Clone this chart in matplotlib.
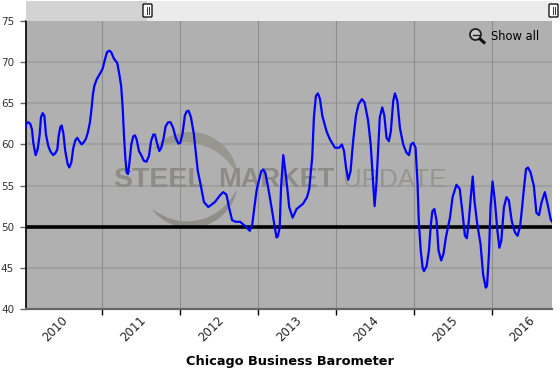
import numpy as np
import matplotlib
matplotlib.use('Agg')
import matplotlib.pyplot as plt
from matplotlib.patches import Circle, Rectangle, FancyBboxPatch

# months since Jan 2010
months = [0.18, 0.36, 0.6, 0.92, 1.18, 1.38, 1.74, 2.05, 2.36, 2.56, 2.82, 3.08, 3.33, 3.69, 4.05, 4.46, 4.82, 5.08, 5.28, 5.54, 5.74, 6.0, 6.3, 6.67, 6.92, 7.23, 7.54, 7.85, 8.15, 8.46, 8.82, 9.18, 9.49, 9.79, 10.1, 10.36, 10.56, 10.77, 11.13, 11.64, 12.05, 12.36, 12.72, 13.08, 13.38, 13.8, 14.3, 14.6, 14.9, 15.13, 15.33, 15.54, 15.74, 15.95, 16.15, 16.46, 16.77, 17.03, 17.28, 17.64, 18.05, 18.4, 18.8, 19.18, 19.5, 19.85, 20.1, 20.4, 20.77, 21.08, 21.44, 21.74, 22.15, 22.5, 22.9, 23.3, 23.7, 24.0, 24.36, 24.7, 24.97, 25.28, 25.64, 26.1, 26.36, 26.7, 27.03, 27.3, 27.64, 28.3, 28.67, 29.33, 30.1, 30.6, 31.1, 31.5, 31.97, 32.5, 33.2, 33.95, 34.7, 35.08, 35.4, 35.74, 36.0, 36.46, 36.77, 37.1, 37.44, 37.8, 38.3, 38.8, 39.0, 39.3, 39.5, 39.85, 40.3, 40.77, 41.28, 41.9, 42.9, 43.5, 43.85, 43.95, 44.3, 44.56, 44.87, 45.18, 45.5, 45.85, 46.5, 47.03, 47.8, 48.46, 48.87, 49.2, 49.5, 49.85, 50.2, 50.6, 51.03, 51.44, 51.95, 52.36, 52.9, 53.3, 53.6, 53.9, 54.2, 54.46, 54.7, 55.08, 55.4, 55.74, 56.1, 56.4, 56.77, 57.03, 57.4, 57.8, 58.3, 58.8, 59.2, 59.5, 59.85, 60.2, 60.5, 60.7, 61.0, 61.3, 61.5, 61.9, 62.26, 62.56, 62.8, 63.1, 63.44, 63.74, 64.15, 64.5, 64.87, 65.5, 65.9, 66.5, 67.0, 67.4, 67.8, 68.1, 68.4, 68.7, 69.0, 69.26, 69.7, 70.2, 70.6, 71.0, 71.2, 71.5, 71.74, 72.05, 72.4, 72.8, 73.1, 73.4, 73.8, 74.2, 74.56, 75.0, 75.5, 75.9, 76.3, 76.6, 76.9, 77.2, 77.5, 77.9, 78.4, 78.8, 79.2, 79.6, 80.1, 80.5, 81.0, 81.2]
barometer = [62.1, 62.6, 62.7, 62.5, 61.8, 60.2, 58.7, 59.4, 61.2, 63.3, 63.8, 63.5, 61.2, 59.8, 59.1, 58.7, 59.0, 59.4, 61.0, 62.1, 62.3, 61.4, 59.2, 57.6, 57.2, 57.8, 59.6, 60.5, 60.8, 60.4, 60.0, 60.3, 60.7, 61.5, 62.7, 64.5, 66.1, 67.1, 67.9, 68.6, 69.2, 70.2, 71.2, 71.4, 71.2, 70.4, 69.9, 68.6, 67.1, 64.5, 61.2, 58.4, 56.6, 56.4, 57.6, 60.0, 61.0, 61.1, 60.6, 59.2, 58.6, 58.0, 57.9, 58.6, 60.4, 61.2, 61.2, 60.2, 59.2, 59.6, 60.8, 62.2, 62.7, 62.7, 62.0, 60.8, 60.1, 60.2, 61.4, 63.5, 64.0, 64.1, 63.3, 61.2, 59.2, 56.75, 55.5, 54.4, 53.0, 52.4, 52.6, 53.0, 53.8, 54.2, 53.9, 52.35, 50.8, 50.6, 50.6, 50.1, 49.5, 50.3, 52.35, 54.4, 55.3, 56.75, 56.95, 56.5, 55.1, 53.5, 51.1, 48.7, 48.8, 49.9, 54.7, 58.7, 55.9, 52.35, 51.1, 52.15, 52.8, 53.6, 54.6, 55.5, 58.4, 63.3, 65.9, 66.2, 65.5, 63.5, 61.6, 60.6, 59.6, 59.6, 60.0, 59.2, 57.2, 55.7, 56.75, 60.4, 63.5, 64.9, 65.5, 65.1, 62.9, 60.0, 56.3, 52.5, 55.5, 59.6, 63.3, 64.5, 63.5, 60.8, 60.4, 61.6, 65.3, 66.2, 65.3, 62.0, 60.0, 59.0, 58.7, 60.0, 60.2, 59.6, 55.5, 50.7, 47.1, 45.0, 44.6, 45.2, 47.1, 50.3, 51.9, 52.15, 50.7, 47.1, 45.9, 46.7, 48.7, 51.1, 53.6, 55.1, 54.6, 51.9, 48.9, 48.6, 50.7, 53.6, 56.1, 53.2, 50.3, 47.9, 44.2, 42.6, 42.8, 46.7, 52.35, 55.5, 53.2, 49.5, 47.45, 48.3, 52.35, 53.6, 53.2, 50.7, 49.3, 48.9, 50.1, 52.35, 54.8, 57.0, 57.2, 56.6, 55.0, 51.7, 51.4, 53.0, 54.2, 52.8, 50.9, 50.6]

year_ticks = [12, 24, 36, 48, 60, 72]
year_label_pos = [5.6, 17.6, 29.6, 41.6, 53.6, 65.6, 77.6]
year_labels = ['2010', '2011', '2012', '2013', '2014', '2015', '2016']
y_ticks = [40, 45, 50, 55, 60, 65, 70, 75]
threshold = 50
title = 'Chicago Business Barometer'

W, H = 560, 372


# arc of the watermark logo, thick in the middle and pointed at the ends
def crescent(a, a0, a1, thick, color):
    t = np.radians(np.linspace(a0, a1, 80))
    r = 48 - thick * np.sin(np.pi * (t - t[0]) / (t[-1] - t[0])) ** 0.7
    xs = np.r_[190 + 48 * np.cos(t), (190 + r * np.cos(t))[::-1]]
    ys = np.r_[180 + 48 * np.sin(t), (180 + r * np.sin(t))[::-1]]
    a.fill(xs, ys, color=color, lw=0)


fig = plt.figure(figsize=(W / 100, H / 100), dpi=100, facecolor='white')
ax = fig.add_axes([25.5 / W, 1 - 309 / H, (552 - 25.5) / W, (309 - 21) / H])
ax.set_facecolor('#b0b0b0')
ax.set_xlim(0.18, 81.2)
ax.set_ylim(40, 75)

ax.set_yticks(y_ticks)
ax.set_xticks(year_ticks)
ax.set_xticklabels([])
ax.set_xticks(year_label_pos, minor=True)
ax.set_xticklabels(year_labels, minor=True, rotation=45, ha='right', va='top',
                   rotation_mode='anchor', fontsize=8.5, color='#222222')
ax.tick_params(axis='x', which='major', length=4, width=1, color='black')
ax.tick_params(axis='x', which='minor', length=0, pad=3.5)
ax.tick_params(axis='y', length=4, width=1, color='#666666', labelsize=7.5,
               labelcolor='#333333', pad=4.2)
ax.grid(False)
for v in y_ticks[1:-1]:
    ax.axhline(v, color='#a0a0a0', lw=1.5, zorder=1)
for v in year_ticks:
    ax.axvline(v, color='#8e8e8e', lw=0.8, zorder=1)

for s in ['top', 'right']:
    ax.spines[s].set_visible(False)
ax.spines['left'].set_color('black')
ax.spines['left'].set_linewidth(1.2)
ax.spines['bottom'].set_color('#666666')
ax.spines['bottom'].set_linewidth(1.6)

# watermark, in pixel coordinates
over = fig.add_axes([0, 0, 1, 1], facecolor='none', zorder=1.5)
over.set_xlim(0, W)
over.set_ylim(H, 0)
over.axis('off')
crescent(over, -140, -8, 11, '#97968f')
crescent(over, 12, 142, 7, '#8f8e88')
over.text(113, 180, 'STEEL', fontsize=20.5, fontweight='bold', color='#8c8b86', va='center', family='Liberation Sans')
over.text(218, 180, 'MARKET', fontsize=19.5, fontweight='bold', color='#8c8b86', va='center', family='Liberation Sans')
over.text(343, 180, 'UPDATE', fontsize=18.7, color='#96958f', va='center', family='Liberation Sans')

# line on top of watermark
top = fig.add_axes(ax.get_position(), facecolor='none', zorder=2)
top.set_xlim(ax.get_xlim())
top.set_ylim(ax.get_ylim())
top.axis('off')
top.axhline(threshold, color='black', lw=2.6, zorder=2)
top.plot(months, barometer, color='#0000ff', lw=1.6, solid_joinstyle='round', zorder=3)

ui = fig.add_axes([0, 0, 1, 1], facecolor='none', zorder=3)
ui.set_xlim(0, W)
ui.set_ylim(H, 0)
ui.axis('off')
# range slider band and handles
ui.add_patch(Rectangle((25.5, 1), 121.5, 20, facecolor='#d3d3d3', edgecolor='none'))
ui.add_patch(Rectangle((147, 1), 405, 20, facecolor='#ebebeb', edgecolor='none'))
for hx in [147.5, 553.5]:
    ui.add_patch(FancyBboxPatch((hx - 3.5, 5), 7, 11, boxstyle='round,pad=1', facecolor='white', edgecolor='black', lw=0.9))
    ui.plot([hx - 1, hx - 1], [7, 14], color='#333333', lw=0.7)
    ui.plot([hx + 1, hx + 1], [7, 14], color='#333333', lw=0.7)
# show all icon
ui.add_patch(Circle((475.5, 34.5), 5.5, facecolor='#c9c9c9', edgecolor='#222222', lw=1.3))
ui.plot([472.5, 478.5], [34.5, 34.5], color='#222222', lw=1)
ui.plot([480, 484], [39, 42.5], color='#111111', lw=2.2)
ui.text(491, 36, 'Show all', fontsize=8.3, color='black', va='center')
ui.text(290, 362, title, fontsize=9.25, fontweight='bold', color='black', ha='center', va='center')

fig.savefig('out.png', dpi=100, facecolor='white')
